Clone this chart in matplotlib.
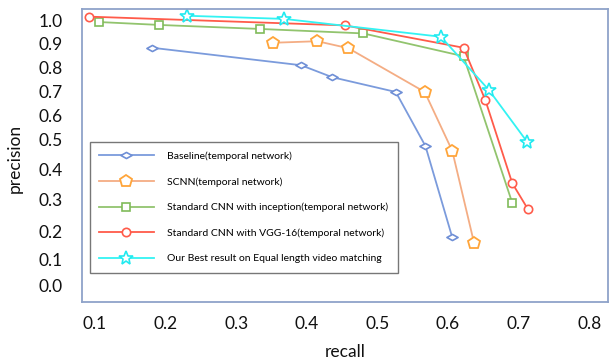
import numpy as np
import matplotlib
matplotlib.use("Agg")
import matplotlib.pyplot as plt
from matplotlib.path import Path

plt.rcParams['font.family'] = ['Lato', 'DejaVu Sans']

# ---- data ----
baseline_x = [0.181, 0.392, 0.436, 0.526, 0.568, 0.606]
baseline_y = [0.881, 0.811, 0.760, 0.696, 0.480, 0.181]

scnn_x = [0.352, 0.415, 0.459, 0.567, 0.606, 0.637]
scnn_y = [0.901, 0.908, 0.879, 0.696, 0.464, 0.160]

incep_x = [0.106, 0.191, 0.334, 0.480, 0.622, 0.691]
incep_y = [0.994, 0.981, 0.963, 0.943, 0.847, 0.291]

vgg_x = [0.092, 0.454, 0.622, 0.653, 0.691, 0.713]
vgg_y = [1.018, 0.979, 0.881, 0.661, 0.356, 0.272]

best_x = [0.230, 0.368, 0.590, 0.658, 0.712]
best_y = [1.022, 1.008, 0.928, 0.704, 0.494]

labels = ["Baseline(temporal network)",
          "SCNN(temporal network)",
          "Standard CNN with inception(temporal network)",
          "Standard CNN with VGG-16(temporal network)",
          "Our Best result on Equal length video matching"]

x_ticks = [0.1, 0.2, 0.3, 0.4, 0.5, 0.6, 0.7, 0.8]
y_ticks = [1.0, 0.9, 0.8, 0.7, 0.6, 0.5, 0.4, 0.3, 0.2, 0.1, 0.0]

# non-uniform vertical axis of the original (tick value -> relative position)
y_anchor_val = [1.052, 1.0, 0.9, 0.8, 0.7, 0.6, 0.5, 0.4, 0.3, 0.2, 0.1, 0.0, -0.0615]
y_anchor_pix = [9, 20.7, 43, 68, 91, 115, 140, 170, 200, 232, 260, 286, 302]
fwd_v = np.array(y_anchor_val[::-1])
fwd_p = -np.array(y_anchor_pix[::-1], dtype=float)

def fwd(v):
    return np.interp(v, fwd_v, fwd_p)

def inv(p):
    return np.interp(p, fwd_p, fwd_v)

fig = plt.figure(figsize=(6.12, 3.61), dpi=100)
ax = fig.add_axes([82/612, 1-302/361, (608-82)/612, (302-9)/361])
ax.set_yscale('function', functions=(fwd, inv))
ax.set_ylim(-0.0615, 1.052)
ax.set_xlim(0.0816, 0.8266)

diamond = Path([(-1, 0), (0, 0.55), (1, 0), (0, -0.55), (-1, 0)],
               [Path.MOVETO, Path.LINETO, Path.LINETO, Path.LINETO, Path.CLOSEPOLY])

ax.plot(baseline_x, baseline_y, color='#7b9bdc', lw=1.3, marker=diamond, ms=8,
        mfc='white', mec='#6f8fd6', mew=1.2, label=labels[0])
ax.plot(scnn_x, scnn_y, color='#f4ad84', lw=1.3, marker='p', ms=9,
        mfc='white', mec='#ffa53a', mew=1.3, label=labels[1])
ax.plot(incep_x, incep_y, color='#92c46e', lw=1.3, marker='s', ms=6,
        mfc='white', mec='#80bb5a', mew=1.2, label=labels[2])
ax.plot(vgg_x, vgg_y, color='#ff5b4a', lw=1.3, marker='o', ms=6,
        mfc='white', mec='#ff5b4a', mew=1.2, label=labels[3])
ax.plot(best_x, best_y, color='#33f3f3', lw=1.3, marker='*', ms=10,
        mfc='white', mec='#22eaf0', mew=1.2, label=labels[4])

ax.set_xticks(x_ticks)
ax.set_xticklabels([f"{v:.1f}" for v in x_ticks])
ax.set_yticks(y_ticks)
ax.set_yticklabels([f"{v:.1f}" for v in y_ticks])
ax.tick_params(axis='both', length=0, labelsize=12.5, colors='#111111')
ax.tick_params(axis='x', pad=10)
ax.tick_params(axis='y', pad=14)

for s in ax.spines.values():
    s.set_color('#8fa3c9')
    s.set_linewidth(1.3)

fig.text(15/612, 1-158/361, 'precision', rotation=90, ha='center', va='center',
         fontsize=12.5, color='#111111')
fig.text(345/612, 1-352/361, 'recall', ha='center', va='center',
         fontsize=12.5, color='#111111')

leg = ax.legend(loc='upper left', bbox_to_anchor=((90-82)/526, (302-142)/293),
                frameon=True, fancybox=False, fontsize=7.5, handlelength=5.2,
                handletextpad=1.3, labelspacing=1.55, borderpad=0.9,
                borderaxespad=0)
leg.get_frame().set_edgecolor('#555555')
leg.get_frame().set_linewidth(1.0)

fig.savefig('out.png', dpi=100)
